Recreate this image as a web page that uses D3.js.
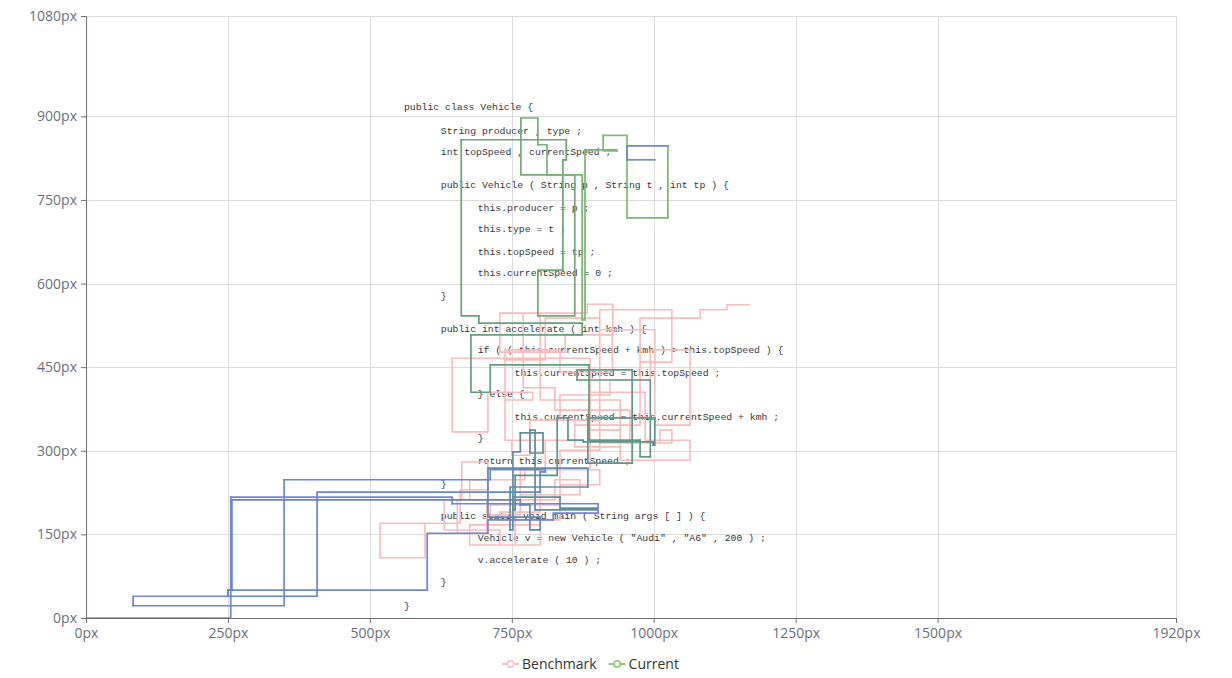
<!DOCTYPE html>
<html>
<head>
<meta charset="utf-8">
<script src="https://cdn.jsdelivr.net/npm/d3@7/dist/d3.min.js"></script>
<style>
  body { margin: 0; background: #fff; }
  svg { display: block; font-family: "Open Sans", "Noto Sans", sans-serif; }
</style>
</head>
<body>
<svg id="chart" width="1232" height="678"></svg>
<script>
// axis ticks (px on a 1920x1080 screen)
const xTicks = [0, 250, 500, 750, 1000, 1250, 1500, 1920];
const yTicks = [0, 150, 300, 450, 600, 750, 900, 1080];

// source code shown under the gaze paths
const codeLines = [
  'public class Vehicle {',
  'String producer , type ;',
  'int topSpeed , currentSpeed ;',
  'public Vehicle ( String p , String t , int tp ) {',
  'this.producer = p ;',
  'this.type = t ;',
  'this.topSpeed = tp ;',
  'this.currentSpeed = 0 ;',
  '}',
  'public int accelerate ( int kmh ) {',
  'if ( ( this.currentSpeed + kmh ) > this.topSpeed ) {',
  'this.currentSpeed = this.topSpeed ;',
  '} else {',
  'this.currentSpeed = this.currentSpeed + kmh ;',
  '}',
  'return this.currentSpeed ;',
  '}',
  'public static void main ( String args [ ] ) {',
  'Vehicle v = new Vehicle ( "Audi" , "A6" , 200 ) ;',
  'v.accelerate ( 10 ) ;',
  '}',
  '}'
];
const codeIndent = [0, 1, 1, 1, 2, 2, 2, 2, 1, 1, 2, 3, 2, 3, 2, 2, 1, 1, 2, 2, 1, 0];
const codeY = [917, 875, 836, 777, 737, 698, 658, 619, 579, 520, 481, 441, 402, 362, 323, 282, 242, 183, 144, 104, 65, 23];
const codeX0 = 560, codeIndentStep = 65;

// Benchmark gaze path
const benchX = [597, 518, 597, 659, 708, 662, 706, 654, 765, 800, 729, 835, 905, 809, 750, 782, 861, 941, 888, 645,
  708, 787, 738, 835, 927, 976, 1032, 905, 1011, 1032, 958, 826, 770, 883, 928, 844, 729, 800, 941, 1064,
  985, 888, 773, 676, 631, 729, 800, 676, 756, 826, 870, 765, 712, 835, 905, 835, 923, 994,
  1064, 1002, 905, 809, 738, 861, 976, 1082, 1129, 1170];
const benchY = [170, 108, 170, 230, 280, 212, 152, 212, 266, 190, 176, 239, 266, 319, 292, 355, 307, 337, 466, 334,
  405, 391, 481, 441, 517, 459, 553, 314, 337, 314, 373, 413, 547, 563, 508, 477, 547, 391, 283, 319,
  405, 266, 248, 212, 158, 131, 167, 131, 212, 248, 221, 185, 203, 301, 355, 400, 427, 481,
  346, 517, 538, 463, 319, 346, 538, 553, 562, 562];

// Current gaze path
const currX = [0, 255, 645, 902, 823, 708, 601, 250, 83, 349, 712, 809, 800, 407, 250, 257, 765, 782, 800, 708,
  884, 747, 752, 765, 805, 782, 791, 900, 835, 752, 756, 830, 849, 876, 999, 1002, 884, 962, 865, 994,
  976, 886, 712, 678, 874, 692, 661, 846, 840, 796, 861, 766, 796, 812, 874, 879, 935, 911, 953, 1025, 953, 1002];
const currY = [0, 217, 205, 188, 176, 152, 50, 39, 22, 248, 266, 262, 226, 39, 50, 212, 203, 158, 181, 269,
  235, 158, 298, 332, 296, 337, 194, 197, 217, 194, 256, 359, 319, 316, 310, 359, 278, 445, 427, 289,
  319, 454, 405, 508, 529, 542, 858, 822, 624, 542, 795, 897, 849, 795, 535, 840, 838, 866, 718, 847, 822, 822];

const seriesNames = ['Benchmark', 'Current'];

const svg = d3.select('#chart');
const margin = { top: 16, right: 56, bottom: 60, left: 86 };
const W = +svg.attr('width'), H = +svg.attr('height');

const x = d3.scaleLinear().domain([0, 1920]).range([margin.left, W - margin.right]);
const y = d3.scaleLinear().domain([0, 1080]).range([H - margin.bottom, margin.top]);

// grid
const grid = svg.append('g').attr('stroke', '#dcdcdc').attr('stroke-width', 1);
grid.selectAll('.gy').data(yTicks.slice(1)).enter().append('line')
  .attr('x1', x(0)).attr('x2', x(1920))
  .attr('y1', d => Math.round(y(d)) + 0.5).attr('y2', d => Math.round(y(d)) + 0.5);
grid.selectAll('.gx').data(xTicks.slice(1)).enter().append('line')
  .attr('x1', d => Math.round(x(d)) + 0.5).attr('x2', d => Math.round(x(d)) + 0.5)
  .attr('y1', y(0)).attr('y2', y(1080));

// code "screenshot" text
svg.append('g')
  .attr('font-family', '"Liberation Mono", "DejaVu Sans Mono", monospace')
  .attr('font-size', 9.8)
  .attr('fill', '#383838')
  .selectAll('text').data(codeLines).enter().append('text')
  .attr('x', (d, i) => x(codeX0 + codeIndent[i] * codeIndentStep))
  .attr('y', (d, i) => y(codeY[i]))
  .attr('dy', '0.35em')
  .text(d => d);

svg.append('clipPath').attr('id', 'plot')
  .append('rect').attr('x', x(0)).attr('y', y(1080))
  .attr('width', x(1920) - x(0)).attr('height', y(0) - y(1080));

const step = d3.line().x(d => x(d[0])).y(d => y(d[1])).curve(d3.curveStepAfter);

const bench = benchX.map((v, i) => [v, benchY[i]]);
const curr = currX.map((v, i) => [v, currY[i]]);

const plot = svg.append('g').attr('clip-path', 'url(#plot)');

plot.append('path')
  .datum(bench)
  .attr('d', step)
  .attr('fill', 'none')
  .attr('stroke', '#f9bcbc')
  .attr('stroke-width', 1.6);

// Current: colour shifts along the path
const n = curr.length - 1;
const ramp = d3.scaleLinear()
  .domain([0, 10, 18, 30, 44, 57, 58, 59, 60])
  .range(['#7185df', '#6f85d6', '#6089b0', '#5e9090', '#67a07c', '#80bd6c', '#7db86e', '#6f86d0', '#7195a8'])
  .interpolate(d3.interpolateRgb);

plot.selectAll('.seg').data(d3.range(n)).enter().append('path')
  .attr('d', k => step([curr[k], curr[k + 1]]))
  .attr('fill', 'none')
  .attr('stroke', k => ramp(k))
  .attr('stroke-width', 1.7)
  .attr('stroke-linecap', 'square');

// axes
const yAxis = svg.append('g')
  .attr('transform', `translate(${x(0)},0)`)
  .call(d3.axisLeft(y).tickValues(yTicks).tickFormat(d => d + 'px').tickSize(5).tickPadding(4));
const xAxis = svg.append('g')
  .attr('transform', `translate(0,${y(0)})`)
  .call(d3.axisBottom(x).tickValues(xTicks).tickFormat(d => d + 'px').tickSize(5).tickPadding(5));

[xAxis, yAxis].forEach(a => {
  a.select('.domain').attr('stroke', '#6e7079');
  a.selectAll('.tick line').attr('stroke', '#6e7079');
  a.selectAll('.tick text').attr('fill', '#6e7079').attr('font-size', 14)
    .attr('font-family', '"Open Sans", sans-serif');
});

// legend
const legendColors = ['#f9c0c0', '#91c87c'];
const legend = svg.append('g').attr('transform', 'translate(502,664)');
let lx = 0;
seriesNames.forEach((name, i) => {
  const item = legend.append('g').attr('transform', `translate(${lx},0)`);
  item.append('line').attr('x1', 0).attr('x2', 17).attr('y1', 0).attr('y2', 0)
    .attr('stroke', legendColors[i]).attr('stroke-width', 2);
  item.append('circle').attr('cx', 8.5).attr('cy', 0).attr('r', 3.2)
    .attr('fill', '#fff').attr('stroke', legendColors[i]).attr('stroke-width', 1.6);
  const t = item.append('text').attr('x', 20).attr('dy', '0.35em')
    .attr('font-size', 14).attr('fill', '#333').text(name);
  lx += 20 + t.node().getComputedTextLength() + 12;
});
</script>
</body>
</html>
